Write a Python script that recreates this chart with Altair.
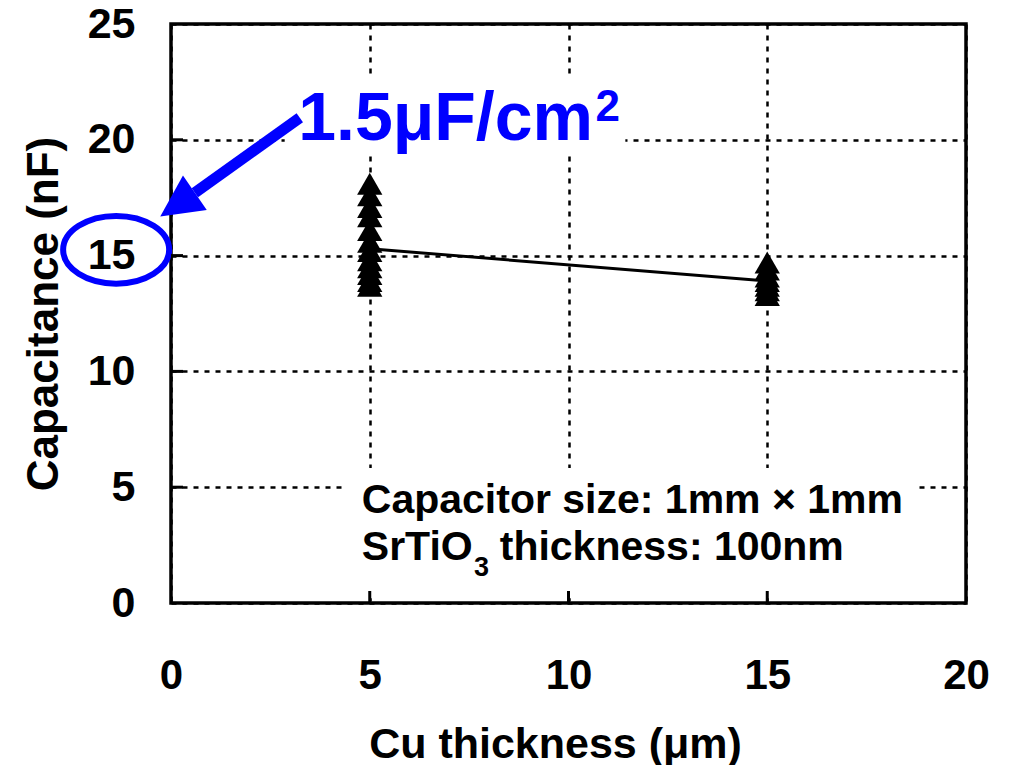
import altair as alt
import pandas as pd

# ---- data ----
cap_at_5 = [18.1, 17.6, 17.1, 16.7, 16.1, 15.6, 15.2, 14.8, 14.5, 14.2, 13.9, 13.7]
cap_at_15 = [14.7, 14.4, 14.1, 13.9, 13.7, 13.5, 13.3]
cu_thickness = [5] * len(cap_at_5) + [15] * len(cap_at_15)
capacitance = cap_at_5 + cap_at_15

line_x = [5, 15]
line_y = [15.3, 13.9]

x_tick_values = [0, 5, 10, 15, 20]
y_tick_values = [0, 5, 10, 15, 20, 25]
x_inner_ticks = [5, 10, 15]
y_inner_ticks = [5, 10, 15, 20]

# annotation anchors (data coordinates)
mask_x1 = [2.86, 4.37]
mask_x2 = [11.43, 18.7]
mask_y1 = [19.35, 0.2]
mask_y2 = [22.8, 5.83]

W, H = 795, 579
FONT = "Liberation Sans"
BLUE = "#0000FF"

xs = alt.Scale(domain=[0, 20], nice=False, zero=False)
ys = alt.Scale(domain=[0, 25], nice=False, zero=False)

pts = pd.DataFrame({"x": cu_thickness, "y": capacitance})
ln = pd.DataFrame({"x": line_x, "y": line_y})
masks = pd.DataFrame({"x": mask_x1, "x2": mask_x2, "y": mask_y1, "y2": mask_y2})

x_axis = alt.Axis(values=x_tick_values, title="Cu thickness (μm)", grid=True,
                  gridDash=[5, 6], gridColor="black", gridWidth=2.5, gridOpacity=1,
                  domain=False, ticks=False, tickSize=0, labelFlush=False, labelOverlap=False,
                  labelFont=FONT, labelFontWeight="bold", labelFontSize=42, labelColor="black",
                  labelPadding=52, titleFont=FONT, titleFontWeight="bold", titleFontSize=43,
                  titleColor="black", titleY=154, titleX=384, titleBaseline="alphabetic")
y_axis = alt.Axis(values=y_tick_values, title="Capacitance (nF)", grid=True,
                  gridDash=[5, 6], gridColor="black", gridWidth=2.5, gridOpacity=1,
                  domain=False, ticks=False, tickSize=0, labelFlush=False, labelOverlap=False,
                  labelFont=FONT, labelFontWeight="bold", labelFontSize=43, labelColor="black",
                  labelPadding=36, titleFont=FONT, titleFontWeight="bold", titleFontSize=44,
                  titleColor="black", titleX=-114, titleY=H / 2, titleBaseline="alphabetic")


def X(field="x"):
    return alt.X(f"{field}:Q", scale=xs, title="Cu thickness (μm)")


def Y(field="y"):
    return alt.Y(f"{field}:Q", scale=ys, title="Capacitance (nF)")


mask_layer = alt.Chart(masks).mark_rect(fill="white", strokeWidth=0).encode(
    x=alt.X("x:Q", scale=xs, axis=x_axis),
    x2="x2:Q",
    y=alt.Y("y:Q", scale=ys, axis=y_axis),
    y2="y2:Q",
)

line_layer = alt.Chart(ln).mark_line(color="black", strokeWidth=3).encode(x=X(), y=Y())

point_layer = alt.Chart(pts).mark_point(shape="triangle-up", filled=True, color="black",
                                        opacity=1, size=640).encode(x=X(), y=Y())

ytick_layer = alt.Chart(pd.DataFrame({"y": y_inner_ticks})).mark_rule(
    color="black", strokeWidth=3).encode(y=Y(), x=alt.value(0), x2=alt.value(12))

xtick_layer = alt.Chart(pd.DataFrame({"x": x_inner_ticks})).mark_rule(
    color="black", strokeWidth=3).encode(x=X(), y=alt.value(H), y2=alt.value(H - 12))


def text_layer(x, y, s, size, color="black", align="left"):
    return alt.Chart(pd.DataFrame({"x": [x], "y": [y], "t": [s]})).mark_text(
        font=FONT, fontWeight="bold", fontSize=size, color=color, align=align,
        baseline="alphabetic").encode(x=X(), y=Y(), text="t:N")


big_label = text_layer(3.2, 20.0, "1.5μF/cm", 68, BLUE)
big_sup = text_layer(10.68, 20.82, "2", 44, BLUE)
note1 = text_layer(4.8, 3.89, "Capacitor size: 1mm × 1mm", 41)
note2a = text_layer(4.8, 1.86, "SrTiO", 41)
note2b = text_layer(7.62, 1.15, "3", 27)
note2c = text_layer(8.27, 1.86, "thickness: 100nm", 41)

arrow_df = pd.DataFrame({"x": [3.24], "y": [20.95], "x2": [0.60], "y2": [17.71]})
arrow_shaft = alt.Chart(arrow_df).mark_rule(color=BLUE, strokeWidth=11, strokeCap="butt").encode(
    x=X(), y=Y(), x2="x2:Q", y2="y2:Q")

head_df = pd.DataFrame({"x": [0.31], "y": [17.37]})
arrow_head = alt.Chart(head_df).mark_point(
    shape="M0,-1.333L1,0.667L-1,0.667Z", filled=True, color=BLUE, opacity=1,
    size=1764, angle=235.5, strokeWidth=0).encode(x=X(), y=Y())

ell_df = pd.DataFrame({"x": [-1.38], "y": [15.25]})
ellipse = alt.Chart(ell_df).mark_point(
    shape="M1,0C1,0.354,0.552,0.64,0,0.64C-0.552,0.64,-1,0.354,-1,0"
          "C-1,-0.354,-0.552,-0.64,0,-0.64C0.552,-0.64,1,-0.354,1,0Z",
    filled=False, stroke=BLUE, strokeWidth=6, opacity=1, size=11236).encode(x=X(), y=Y())

chart = alt.layer(
    mask_layer, line_layer, point_layer, big_label, big_sup, note1, note2a, note2b, note2c,
    arrow_shaft, arrow_head, ellipse, ytick_layer, xtick_layer
).properties(
    width=W, height=H,
    padding={"left": 163, "top": 16, "right": 35, "bottom": 162},
    autosize=alt.AutoSizeParams(type="none"),
    background="white",
).configure_view(stroke="black", strokeWidth=3.5)

chart.save("out.html", embed_options={"renderer": "svg", "actions": False})
